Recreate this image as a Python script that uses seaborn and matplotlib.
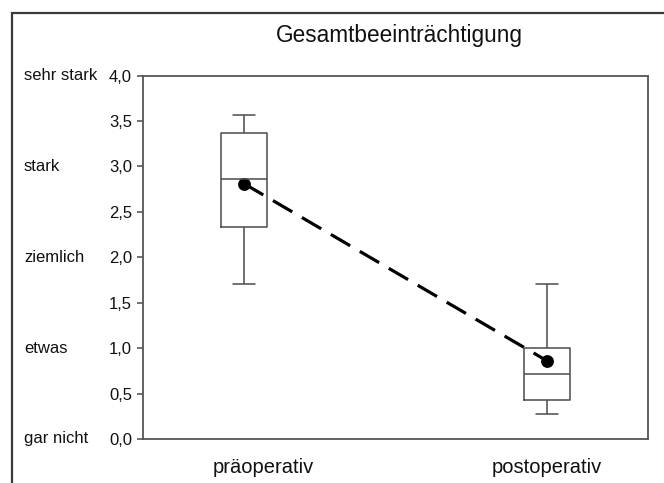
import numpy as np
import pandas as pd
import seaborn as sns
import matplotlib
matplotlib.use("Agg")
import matplotlib.pyplot as plt
from matplotlib.patches import Rectangle
from matplotlib.ticker import FuncFormatter
import matplotlib.transforms as mtransforms

# --- data ---
groups = ["präoperativ", "postoperativ"]
# five-number summaries: min, Q1, median, Q3, max
pre_values = [1.71, 2.33, 2.86, 3.37, 3.57]
post_values = [0.28, 0.43, 0.71, 1.00, 1.71]
means = [2.81, 0.86]
y_ticks = [0.0, 0.5, 1.0, 1.5, 2.0, 2.5, 3.0, 3.5, 4.0]
level_labels = ["gar nicht", "etwas", "ziemlich", "stark", "sehr stark"]
level_values = [0, 1, 2, 3, 4]
title = "Gesamtbeeinträchtigung"

sns.set_style("white")
plt.rcParams["font.family"] = ["Liberation Sans", "DejaVu Sans"]

df = pd.DataFrame({
    "group": [groups[0]] * len(pre_values) + [groups[1]] * len(post_values),
    "value": pre_values + post_values,
})

W, H = 664, 483
fig = plt.figure(figsize=(W / 100, H / 100), dpi=100)
ax = fig.add_axes([143 / W, 1 - 439 / H, (648 - 143) / W, (439 - 75.5) / H])

edge = "#4a4a4a"
sns.boxplot(data=df, x="group", y="value", order=groups, whis=np.inf,
            width=0.152, fill=False, color=edge, linewidth=1.1,
            showcaps=True, ax=ax)
# cap widths: half of box
ends = (pre_values[0], pre_values[-1], post_values[0], post_values[-1])
for line in ax.lines:
    xd = np.asarray(line.get_xdata(), dtype=float)
    yd = np.asarray(line.get_ydata(), dtype=float)
    if len(xd) == 2 and yd[0] == yd[1] and xd[0] != xd[1] and yd[0] in ends:
        c = (xd[0] + xd[1]) / 2
        line.set_xdata([c - 0.036, c + 0.036])

mdf = pd.DataFrame({"group": groups, "mean": means})
sns.pointplot(data=mdf, x="group", y="mean", order=groups, color="black",
              markers="o", linestyles="--", ax=ax, errorbar=None,
              markersize=7.5, linewidth=2.3)
ax.lines[-1].set_dashes([7, 3.5])

ax.set_xlim(-1 / 3, 4 / 3)
ax.set_ylim(0, 4)
ax.set_yticks(y_ticks)
ax.yaxis.set_major_formatter(FuncFormatter(lambda v, p: f"{v:.1f}".replace(".", ",")))
ax.set_xlabel("")
ax.set_ylabel("")
ax.tick_params(axis="y", direction="out", length=4.3, width=1.1, color=edge,
               labelsize=12, pad=3.6, left=True, labelcolor="#111111")
ax.tick_params(axis="x", length=0, labelsize=14.5, pad=14, labelcolor="#111111")
for s in ax.spines.values():
    s.set_color("#555555")
    s.set_linewidth(1.3)
    s.set_visible(True)

# the first category label sits a little right of its box in the original
xlabels = ax.get_xticklabels()
xlabels[0].set_transform(xlabels[0].get_transform() +
                         mtransforms.ScaledTranslation(19 / 100, 0, fig.dpi_scale_trans))

trans = mtransforms.blended_transform_factory(fig.transFigure, ax.transData)
for lab, v in zip(level_labels, level_values):
    ax.text(24 / W, v, lab, transform=trans, ha="left", va="center",
            fontsize=12, color="#111111")

fig.text(399 / W, 1 - 42 / H, title, ha="center", va="baseline", fontsize=16.3,
         color="#111111")

# outer frame (continues beyond the right and bottom edges)
fig.patches.append(Rectangle((12 / W, -0.2), 1.5, 1 - 13 / H + 0.2,
                             transform=fig.transFigure, fill=False,
                             edgecolor="#3a3a3a", linewidth=1.6))

fig.savefig("out.png", dpi=100)
